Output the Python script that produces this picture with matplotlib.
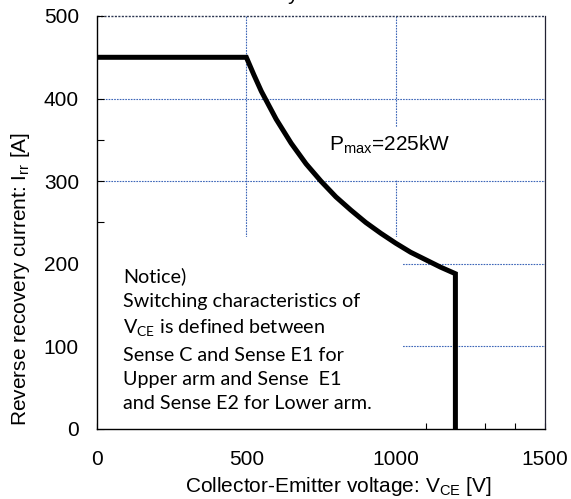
import matplotlib
matplotlib.use("Agg")
import matplotlib.pyplot as plt
from matplotlib.patches import Rectangle

# data
vce = [0, 500, 525, 550, 600, 650, 700, 750, 800, 850, 900, 950,
       1000, 1050, 1100, 1150, 1200, 1200]
irr = [450, 450, 429, 409, 375, 346, 321, 300, 281, 265, 250, 237,
       225, 214, 205, 196, 188, 0]

x_ticks = [0, 500, 1000, 1500]
y_ticks = [0, 100, 200, 300, 400, 500]
grid_full_y = [300, 400]
grid_right_y = [100, 200]
grid_x = [500, 1000]

notice = ("Notice)\n"
          "Switching characteristics of\n"
          "V$_\\mathregular{CE}$ is defined between\n"
          "Sense C and Sense E1 for\n"
          "Upper arm and Sense  E1\n"
          "and Sense E2 for Lower arm.")

plt.rcParams['font.family'] = ['Liberation Sans', 'DejaVu Sans']

W, H = 571, 499
fig = plt.figure(figsize=(W / 100, H / 100), dpi=100)
ax = fig.add_axes([97 / W, (H - 429) / H, 448 / W, 413 / H])

grid_col = '#3d66b8'
grid_ls = (0, (1.5, 1.0))

# grid lines (some get hidden by the white text boxes)
for gy in grid_full_y + grid_right_y:
    ax.axhline(gy, color=grid_col, lw=0.8, ls=grid_ls, zorder=1)
for gx in grid_x:
    ax.axvline(gx, color=grid_col, lw=0.8, ls=grid_ls, zorder=1)
ax.axhline(500, color='#2b3550', lw=1.0, ls=grid_ls, zorder=1, clip_on=False)

# white notice box + white box behind the Pmax label
ax.add_patch(Rectangle((0, 0), 1020, 232, facecolor='white',
                       edgecolor='none', zorder=2))
ax.add_patch(Rectangle((790, 302), 400, 64, facecolor='white',
                       edgecolor='none', zorder=2))

ax.text(87, 108, notice, family=['Lato', 'DejaVu Sans'], fontsize=14.2,
        ha='left', va='center', linespacing=1.52, zorder=4)

ax.plot(vce, irr, color='black', lw=3.6, solid_joinstyle='miter',
        solid_capstyle='butt', zorder=3, clip_on=False)

ax.text(981, 344, 'P$_\\mathregular{max}$=225kW', fontsize=15,
        ha='center', va='center', zorder=4)

ax.set_xlim(0, 1500)
ax.set_ylim(0, 500)
ax.set_xticks(x_ticks)
ax.set_yticks(y_ticks)
ax.set_xticks(range(0, 1501, 100), minor=True)
ax.set_yticks(range(0, 501, 50), minor=True)
ax.tick_params(which='both', direction='in', labelsize=15, width=0.8)
ax.tick_params(axis='x', which='both', length=4, pad=15)
ax.tick_params(axis='y', which='both', length=5, pad=13)
ax.tick_params(which='both', top=False, right=False)

ax.spines['top'].set_visible(False)
ax.spines['right'].set_color('#222233')
ax.spines['right'].set_linewidth(0.9)
ax.spines['left'].set_linewidth(1.0)
ax.spines['bottom'].set_linewidth(1.0)

ax.set_xlabel('Collector-Emitter voltage: V$_\\mathregular{CE}$ [V]', fontsize=15)
ax.set_ylabel('Reverse recovery current: I$_\\mathregular{rr}$ [A]', fontsize=15)
ax.xaxis.set_label_coords(0.538, -0.112)
ax.yaxis.set_label_coords(-0.145, 0.363)

# title clipped by the top edge of the picture
fig.text(299 / W, 1.001, 'Diode reverse recovery', fontsize=15,
         ha='right', va='baseline')

fig.savefig('out.png', dpi=100)
